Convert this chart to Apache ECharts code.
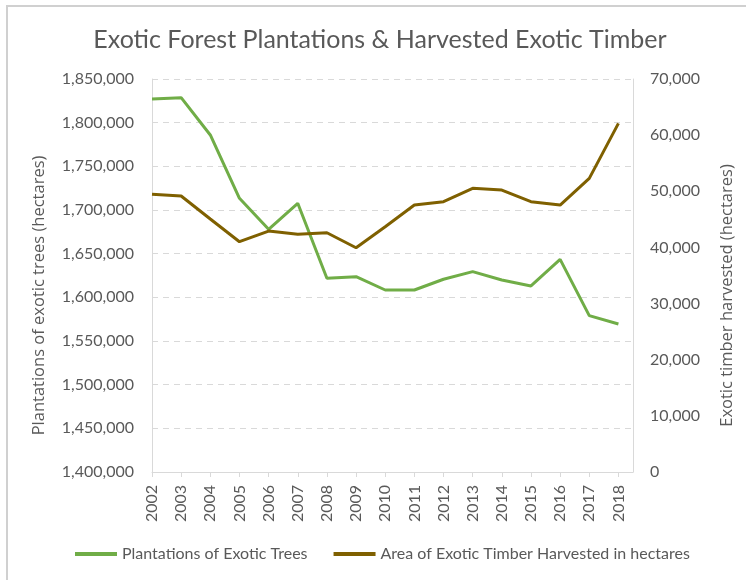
<!DOCTYPE html>
<html>
<head>
<meta charset="utf-8">
<script src="https://cdn.jsdelivr.net/npm/echarts@6/dist/echarts.min.js"></script>
<style>
  html, body { margin: 0; padding: 0; background: #fff; }
  #frame { position: absolute; left: 6px; top: 5px; width: 740px; height: 575px;
           border-top: 2px solid #d0d0d0; border-left: 2px solid #d0d0d0; }
  #chart { position: absolute; left: 0; top: 0; width: 746px; height: 580px; }
</style>
</head>
<body>
<div id="frame"></div>
<div id="chart"></div>
<script>
// years along the x axis
var years = [2002, 2003, 2004, 2005, 2006, 2007, 2008, 2009, 2010,
             2011, 2012, 2013, 2014, 2015, 2016, 2017, 2018];

// plantations of exotic trees (hectares) - left axis
var plantations = [1827000, 1828600, 1785900, 1713400, 1677900, 1707700, 1621800, 1623700, 1608400,
                   1608400, 1620700, 1629400, 1619900, 1613000, 1643500, 1579000, 1569500];

// area of exotic timber harvested (hectares) - right axis
var harvested = [49460, 49160, 45060, 41020, 42920, 42330, 42620, 39950, 43690,
                 47550, 48140, 50530, 50220, 48140, 47550, 52300, 62100];

var font = 'Lato, "Open Sans", sans-serif';
var grey = '#595959';

function pairs(vals) {
    return years.map(function (y, i) { return [y, vals[i]]; });
}

function fmt(v) {
    return v.toString().replace(/\B(?=(\d{3})+(?!\d))/g, ',');
}

var chart = echarts.init(document.getElementById('chart'));

var option = {
    animation: false,
    textStyle: { fontFamily: font },
    title: {
        text: 'Exotic Forest Plantations & Harvested Exotic Timber',
        left: 375,
        textAlign: 'center',
        top: 22,
        textStyle: { fontFamily: font, fontSize: 25, fontWeight: 'normal', color: grey }
    },
    legend: {
        bottom: 13,
        left: 70,
        itemWidth: 42,
        itemHeight: 4,
        itemGap: 26,
        icon: 'rect',
        textStyle: { fontFamily: font, fontSize: 16, color: grey },
        data: ['Plantations of Exotic Trees', 'Area of Exotic Timber Harvested in hectares']
    },
    grid: { left: 152, right: 113, top: 79, bottom: 108 },
    xAxis: {
        type: 'value',
        min: 2002,
        max: 2018.5,
        interval: 1,
        splitLine: { show: false },
        axisLine: { lineStyle: { color: '#d9d9d9' } },
        axisTick: { show: true, length: 5, lineStyle: { color: '#d9d9d9' } },
        axisLabel: {
            rotate: 90,
            fontSize: 16,
            color: grey,
            margin: 13,
            showMaxLabel: false,
            formatter: function (v) { return Number.isInteger(v) ? String(v) : ''; }
        }
    },
    yAxis: [{
        type: 'value',
        min: 1400000,
        max: 1850000,
        interval: 50000,
        name: 'Plantations of exotic trees (hectares)',
        nameLocation: 'middle',
        nameGap: 104,
        nameTextStyle: { fontFamily: '"Open Sans", sans-serif', fontSize: 16.5, color: grey, padding: [0, 0, 0, -40] },
        axisLine: { show: true, lineStyle: { color: '#d9d9d9' } },
        axisTick: { show: false },
        axisLabel: { fontSize: 16, color: grey, margin: 18, formatter: fmt },
        splitLine: { lineStyle: { color: '#d9d9d9', type: [6, 5], width: 1 } }
    }, {
        type: 'value',
        min: 0,
        max: 70000,
        interval: 10000,
        name: 'Exotic timber harvested (hectares)',
        nameLocation: 'middle',
        nameGap: 86,
        nameRotate: 90,
        nameTextStyle: { fontFamily: '"Open Sans", sans-serif', fontSize: 16.5, color: grey, padding: [0, 40, 0, 0] },
        axisLine: { show: true, lineStyle: { color: '#d9d9d9' } },
        axisTick: { show: false },
        axisLabel: { fontSize: 16, color: grey, margin: 17, formatter: fmt },
        splitLine: { show: false }
    }],
    series: [{
        name: 'Plantations of Exotic Trees',
        type: 'line',
        yAxisIndex: 0,
        data: pairs(plantations),
        symbol: 'none',
        color: '#70AD47',
        lineStyle: { width: 3, color: '#70AD47' }
    }, {
        name: 'Area of Exotic Timber Harvested in hectares',
        type: 'line',
        yAxisIndex: 1,
        data: pairs(harvested),
        symbol: 'none',
        color: '#7F6000',
        lineStyle: { width: 3, color: '#7F6000' }
    }]
};

chart.setOption(option);
</script>
</body>
</html>
